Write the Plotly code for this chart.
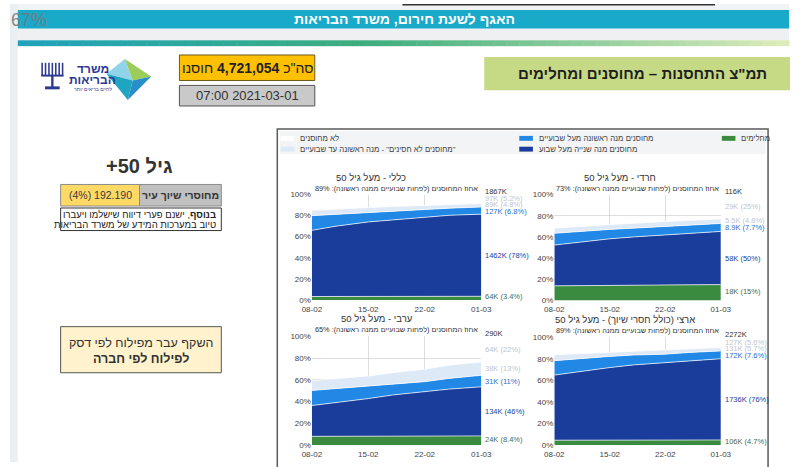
import plotly.graph_objects as go

W, H = 800, 467
FONT = "Liberation Sans, Arial, DejaVu Sans, sans-serif"
RLM = "\u200f"

# ---------------- data ----------------
DATES = ["2021-02-08", "2021-02-11", "2021-02-15", "2021-02-18",
         "2021-02-22", "2021-02-25", "2021-03-01"]
TICK_DATES = ["2021-02-08", "2021-02-15", "2021-02-22", "2021-03-01"]
TICK_LABELS = ["08-02", "15-02", "22-02", "01-03"]
Y_TICKS = [0, 20, 40, 60, 80, 100]

# layers in % of population (bottom -> top)
GEN_RECOVERED = [3.2, 3.2, 3.3, 3.3, 3.3, 3.4, 3.4]
GEN_DOSE2 = [62.8, 66.8, 70.7, 72.7, 75.3, 76.9, 78.0]
GEN_DOSE1 = [14.0, 11.3, 9.0, 8.2, 7.1, 6.7, 6.8]
GEN_NONIMMUNE = [5.0, 4.9, 4.6, 4.5, 3.9, 3.6, 3.4]

HAR_RECOVERED = [13.8, 14.0, 14.3, 14.5, 14.7, 14.9, 15.0]
HAR_DOSE2 = [38.5, 41.0, 43.9, 45.5, 47.1, 48.8, 50.2]
HAR_DOSE1 = [11.1, 10.2, 8.9, 8.3, 8.0, 7.4, 7.5]
HAR_NONIMMUNE = [4.9, 4.6, 4.6, 4.6, 4.7, 4.6, 4.3]

ARB_RECOVERED = [8.0, 8.0, 8.1, 8.2, 8.2, 8.3, 8.4]
ARB_DOSE2 = [28.4, 30.9, 34.7, 37.9, 41.2, 43.2, 45.2]
ARB_DOSE1 = [13.9, 13.2, 12.0, 10.5, 9.0, 9.9, 10.6]
ARB_NONIMMUNE = [9.0, 9.3, 8.8, 10.0, 11.5, 12.1, 12.3]

NAT_RECOVERED = [4.5, 4.5, 4.6, 4.6, 4.6, 4.7, 4.7]
NAT_DOSE2 = [60.5, 63.6, 67.4, 69.9, 72.0, 73.7, 75.5]
NAT_DOSE1 = [13.4, 12.1, 10.4, 9.1, 7.9, 7.6, 7.3]
NAT_NONIMMUNE = [5.5, 4.6, 3.9, 3.9, 3.9, 3.7, 3.1]

# end-of-series labels: total, not vaccinated, non-immune, dose1, dose2, recovered
GEN_LABELS = ["1867K", "97K (5.2%)", "89K (4.8%)", "127K (6.8%)", "1462K (78%)", "64K (3.4%)"]
HAR_LABELS = ["116K", "29K (25%)", "5.5K (4.8%)", "8.9K (7.7%)", "58K (50%)", "18K (15%)"]
ARB_LABELS = ["290K", "64K (22%)", "38K (13%)", "31K (11%)", "134K (46%)", "24K (8.4%)"]
NAT_LABELS = ["2272K", "127K (5.6%)", "131K (5.7%)", "172K (7.6%)", "1736K (76%)", "106K (4.7%)"]

PANEL_TITLES = ["כללי - מעל גיל 50", "חרדי - מעל גיל 50",
                "ערבי - מעל גיל 50", "ארצי (כולל חסרי שיוך) - מעל גיל 50"]
PANEL_PCT = ["89%", "73%", "65%", "89%"]
SUBTITLE = "אחוז המחוסנים (לפחות שבועיים ממנה ראשונה): "

LEGEND_NAMES = ["לא מחוסנים", '"מחוסנים לא חסינים" - מנה ראשונה עד שבועיים',
                "מחוסנים מנה ראשונה מעל שבועיים", "מחוסנים מנה שנייה מעל שבוע", "מחלימים"]

HEADER = "האגף לשעת חירום, משרד הבריאות"
SLIDE_TITLE = 'תמ"צ התחסנות – מחוסנים ומחלימים'
TOTAL_VACCINATED = "4,721,054"
REPORT_TIME = "07:00 2021-03-01"
AGE_GROUP = "+50 גיל"
UNASSIGNED_LABEL = "מחוסרי שיוך עיר"
UNASSIGNED_VALUE = "(4%) 192.190"

# ---------------- styling ----------------
LAYER_COLORS = ["#3a8a3f", "#1a3d9c", "#2288e6", "#dde9f7"]
LABEL_COLORS = ["#333333", "#c2c5cb", "#c2c5cb", "#2a6fd0", "#1a3d9c", "#4e6a4e"]
GRID = "rgba(195,195,195,0.55)"
BOX = [(310, 484, 194.3, 301.7), (559, 730, 194.3, 302.3),
       (310, 484, 339.0, 449.7), (559, 730, 340.0, 449.7)]
TITLE_SHIFT = [-26, -18, -20, -13]

panels = [
    ([GEN_RECOVERED, GEN_DOSE2, GEN_DOSE1, GEN_NONIMMUNE], GEN_LABELS),
    ([HAR_RECOVERED, HAR_DOSE2, HAR_DOSE1, HAR_NONIMMUNE], HAR_LABELS),
    ([ARB_RECOVERED, ARB_DOSE2, ARB_DOSE1, ARB_NONIMMUNE], ARB_LABELS),
    ([NAT_RECOVERED, NAT_DOSE2, NAT_DOSE1, NAT_NONIMMUNE], NAT_LABELS),
]


def rtl(s):
    return RLM + s + RLM


def px(x):
    return x / W


def py(y):
    return 1 - y / H


def rect(x0, y0, x1, y1, fill=None, line=None, lw=0, layer="below"):
    return dict(type="rect", xref="paper", yref="paper",
                x0=px(x0), x1=px(x1), y0=py(y1), y1=py(y0),
                fillcolor=fill or "rgba(0,0,0,0)",
                line=dict(color=line or "rgba(0,0,0,0)", width=lw), layer=layer)


def path(points, fill):
    d = "M " + " L ".join(f"{px(a):.5f},{py(b):.5f}" for a, b in points) + " Z"
    return dict(type="path", xref="paper", yref="paper", path=d,
                fillcolor=fill, line=dict(width=0), layer="above")


def txt(x, y, s, size, color="#333333", anchor="center", **kw):
    return dict(xref="paper", yref="paper", x=px(x), y=py(y), text=s,
                showarrow=False, xanchor=anchor, yanchor="middle",
                font=dict(size=size, color=color, family=FONT), **kw)


def label_positions(layers):
    rec, d2, d1, ni = [l[-1] for l in layers]
    g = rec
    d = g + d2
    b = d + d1
    t = b + ni
    pos = [(t + 100) / 2, (b + t) / 2, (d + b) / 2, (g + d) / 2, g / 2 + 1.2]
    gap = 6.3
    top_cap = 100 - 3.5
    for _ in range(40):
        if pos[0] > top_cap:
            pos[0] = top_cap
        for k in range(len(pos) - 1):
            diff = pos[k] - pos[k + 1]
            if diff < gap:
                delta = (gap - diff) / 2
                pos[k] += delta
                pos[k + 1] -= delta
    return pos


fig = go.Figure()
layout = dict(width=W, height=H, margin=dict(l=0, r=0, t=0, b=0), autosize=False,
              paper_bgcolor="white", plot_bgcolor="white", showlegend=False,
              hovermode=False, font=dict(family=FONT))
annotations = []
shapes = []

for i, (layers, labels) in enumerate(panels):
    ax = "" if i == 0 else str(i + 1)
    x0, x1, y0, y1 = BOX[i]
    for layer, color in zip(layers, LAYER_COLORS):
        fig.add_trace(go.Scatter(
            x=DATES, y=layer, mode="lines", stackgroup=f"g{i}",
            fillcolor=color, line=dict(color="rgba(255,255,255,0.7)", width=1),
            xaxis="x" + ax, yaxis="y" + ax, hoverinfo="skip"))
    layout["xaxis" + ax] = dict(
        domain=[px(x0), px(x1)], anchor="y" + ax, type="date",
        range=[DATES[0], DATES[-1]], tickvals=TICK_DATES, ticktext=TICK_LABELS,
        showgrid=True, gridcolor=GRID, gridwidth=1, layer="above traces",
        zeroline=False, showline=False, ticks="", ticklabelstandoff=3,
        tickfont=dict(size=8, color="#444444", family=FONT), fixedrange=True)
    layout["yaxis" + ax] = dict(
        domain=[py(y1), py(y0)], anchor="x" + ax, range=[0, 100],
        tickvals=Y_TICKS, ticktext=[f"{v}%" for v in Y_TICKS],
        showgrid=True, gridcolor=GRID, gridwidth=1, layer="above traces",
        zeroline=False, showline=False, ticks="",
        tickfont=dict(size=8, color="#444444", family=FONT), fixedrange=True)

    # titles
    annotations.append(dict(xref="x" + ax + " domain", yref="y" + ax + " domain",
                            x=0.5, y=1, xshift=TITLE_SHIFT[i], yshift=10,
                            xanchor="center", yanchor="bottom", showarrow=False,
                            text=PANEL_TITLES[i],
                            font=dict(size=9.5, color="#333333", family=FONT)))
    annotations.append(dict(xref="x" + ax + " domain", yref="y" + ax + " domain",
                            x=0.5, y=1, yshift=0, xanchor="center", yanchor="bottom",
                            showarrow=False, text=rtl(SUBTITLE + PANEL_PCT[i]),
                            font=dict(size=7.3, color="#333333", family=FONT)))
    # end labels
    pos = label_positions(layers)
    annotations.append(dict(xref="x" + ax + " domain", yref="y" + ax, x=1, y=100,
                            xshift=2, yshift=3, xanchor="left", yanchor="middle",
                            showarrow=False, text=labels[0],
                            font=dict(size=7.5, color=LABEL_COLORS[0], family=FONT)))
    for k in range(5):
        annotations.append(dict(xref="x" + ax + " domain", yref="y" + ax, x=1, y=pos[k],
                                xshift=2, xanchor="left", yanchor="middle",
                                showarrow=False, text=labels[k + 1],
                                font=dict(size=7.5, color=LABEL_COLORS[k + 1], family=FONT)))

# ---------------- slide decoration ----------------
shapes.append(rect(0, 0, 8, H, fill="#eceff2"))
shapes.append(rect(8, 0, W, 6, fill="#f2f3f5"))
shapes.append(rect(403, 0, 724, 1.5, fill="#333333"))
shapes.append(rect(8, 24, W, 37, fill="#eef0f2"))
shapes.append(rect(8, 6, W, 25, fill="#19a9c9"))

stops = [(0.0, (31, 163, 189)), (0.45, (62, 174, 126)), (1.0, (222, 236, 186))]
N = 60
for s in range(N):
    f = (s + 0.5) / N
    for (fa, ca), (fb, cb) in zip(stops[:-1], stops[1:]):
        if fa <= f <= fb:
            u = (f - fa) / (fb - fa)
            c = tuple(int(ca[j] + (cb[j] - ca[j]) * u) for j in range(3))
            break
    xa = 8 + (W - 8) * s / N
    xb = 8 + (W - 8) * (s + 1) / N + 0.5
    shapes.append(rect(xa, 37, xb, 43, fill=f"rgb{c}"))

# logo: menorah icon
LOGO_BLUE = "#2b3990"
for bx in [33, 36.5, 40, 43.5, 47, 50.5, 54]:
    shapes.append(rect(bx - 0.8, 60, bx + 0.8, 73, fill=LOGO_BLUE, layer="above"))
shapes.append(rect(32, 72, 55, 74, fill=LOGO_BLUE, layer="above"))
shapes.append(rect(42.3, 73, 44.7, 85, fill=LOGO_BLUE, layer="above"))
shapes.append(rect(36, 84, 51, 87, fill=LOGO_BLUE, layer="above"))
# logo: star
shapes.append(path([(118, 56), (126, 78), (99, 71)], "#8fd4e8"))
shapes.append(path([(118, 56), (145, 74), (126, 78)], "#9ccc5a"))
shapes.append(path([(99, 71), (126, 78), (121, 98)], "#1ea6c0"))
shapes.append(path([(126, 78), (145, 74), (121, 98)], "#2a8fc9"))
annotations.append(txt(85, 66, "<b>משרד</b>", 12, LOGO_BLUE))
annotations.append(txt(85, 77.5, "<b>הבריאות</b>", 12, LOGO_BLUE))
annotations.append(txt(85, 87, "לחיים בריאים יותר", 5, LOGO_BLUE))

# header texts
annotations.append(txt(405, 15.5, "<b>" + HEADER + "</b>", 14, "white"))
annotations.append(txt(-1, 16, "67%", 18, "rgba(120,120,120,0.9)", anchor="left"))

# total / date boxes
shapes.append(rect(174, 52, 313, 78, fill="#ffc000", line="#6b5a1e", lw=1))
annotations.append(txt(243.5, 65, 'סה"כ <b>' + TOTAL_VACCINATED + "</b> חוסנו", 14, "#222222"))
shapes.append(rect(174, 83, 313, 104, fill="#c9c9c9", line="#555555", lw=1))
annotations.append(txt(243.5, 93.5, REPORT_TIME, 13, "#333333"))

# slide title box
shapes.append(rect(487, 54, 801, 88, fill="#c6d985"))
annotations.append(txt(650, 71, "<b>" + SLIDE_TITLE + "</b>", 15, "#1e1e1e"))

# left info panel
annotations.append(txt(133, 165, "<b>" + AGE_GROUP + "</b>", 20, "#333333"))
shapes.append(rect(52, 184, 133, 206, fill="#ffd966", line="#8a8a8a", lw=1))
shapes.append(rect(133, 184, 217, 206, fill="#c0c0c0", line="#8a8a8a", lw=1))
annotations.append(txt(92.5, 195, UNASSIGNED_VALUE, 10.5, "#3a3a3a"))
annotations.append(txt(175, 195, "<b>" + UNASSIGNED_LABEL + "</b>", 10.5, "#333333"))
shapes.append(rect(52, 208, 217, 231, fill="white", line="#333333", lw=1))
annotations.append(txt(214, 214.5, "<b>בנוסף</b>, ישנם פערי דיווח שישלמו ויעברו", 9.5, "#222222", anchor="right"))
annotations.append(txt(214, 225, "טיוב במערכות המידע של משרד הבריאות", 9.5, "#222222", anchor="right"))
shapes.append(rect(52, 329, 217, 376, fill="#fff2cc", line="#555555", lw=1))
annotations.append(txt(135, 346, "השקף עבר מפילוח לפי דסק", 12.5, "#333333"))
annotations.append(txt(135, 362, "<b>לפילוח לפי חברה</b>", 12.5, "#333333"))

# chart panel frame and legend
shapes.append(rect(274.5, 127.5, 778.5, 475, line="#5a5a5a", lw=1.5, layer="above"))
shapes.append(rect(277, 129.5, 776, 153, fill="#f3f4f5"))
LEGEND_POS = [(278, 137), (278, 148), (523, 137), (523, 148), (731, 137)]
LEGEND_COLORS = ["#ffffff", LAYER_COLORS[3], LAYER_COLORS[2], LAYER_COLORS[1], LAYER_COLORS[0]]
for (lx, ly), name, col in zip(LEGEND_POS, LEGEND_NAMES, LEGEND_COLORS):
    shapes.append(rect(lx, ly - 2.5, lx + 14, ly + 2.5, fill=col, layer="above"))
    annotations.append(txt(lx + 18, ly, rtl(name), 7.8, "#444444", anchor="left"))

layout["shapes"] = shapes
layout["annotations"] = annotations
fig.update_layout(**layout)

fig.write_html("out.html", config={"displayModeBar": False},
               post_script="document.body.style.margin='0px';")
